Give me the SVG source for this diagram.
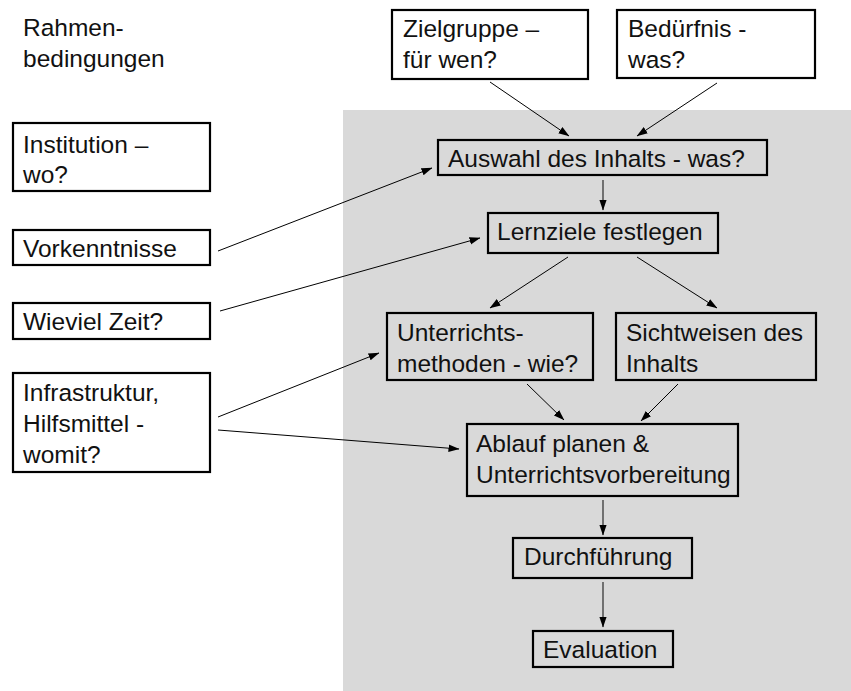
<svg xmlns="http://www.w3.org/2000/svg" width="851" height="691" viewBox="0 0 851 691">
<defs>
<marker id="ah" markerUnits="userSpaceOnUse" markerWidth="11" markerHeight="8" refX="10.5" refY="3.75" orient="auto">
<path d="M0,0 L11,3.75 L0,7.5 Z" fill="#000"/>
</marker>
<style>
.t{font-family:"Liberation Sans",Arial,sans-serif;font-size:24.5px;fill:#111}
.b{fill:#fff;stroke:#000;stroke-width:2.2}
.g{fill:none;stroke:#000;stroke-width:2.2}
.c{fill:none;stroke:#000;stroke-width:1;marker-end:url(#ah)}
.v{fill:none;stroke:#444;stroke-width:1.4;marker-end:url(#ah)}
</style>
</defs>
<rect x="343" y="110" width="508" height="581" fill="#d9d9d9"/>
<g id="rahmen">
<text class="t" x="23" y="36">Rahmen-</text>
<text class="t" x="23" y="67">bedingungen</text>
</g>
<g id="zielgruppe">
<rect class="b" x="392" y="10" width="196" height="69"/>
<text class="t" x="403" y="37">Zielgruppe –</text>
<text class="t" x="403" y="68">für wen?</text>
</g>
<g id="beduerfnis">
<rect class="b" x="617" y="10" width="198" height="68"/>
<text class="t" x="628" y="37">Bedürfnis -</text>
<text class="t" x="628" y="68">was?</text>
</g>
<g id="institution">
<rect class="b" x="13" y="123" width="197" height="68"/>
<text class="t" x="23" y="153">Institution –</text>
<text class="t" x="23" y="183">wo?</text>
</g>
<g id="vorkenntnisse">
<rect class="b" x="13" y="230" width="197" height="35"/>
<text class="t" x="23" y="257">Vorkenntnisse</text>
</g>
<g id="zeit">
<rect class="b" x="13" y="303" width="197" height="36"/>
<text class="t" x="23" y="330">Wieviel Zeit?</text>
</g>
<g id="infrastruktur">
<rect class="b" x="13" y="373" width="197" height="99"/>
<text class="t" x="23" y="401">Infrastruktur,</text>
<text class="t" x="23" y="432">Hilfsmittel -</text>
<text class="t" x="23" y="463">womit?</text>
</g>
<g id="auswahl">
<rect class="g" x="438" y="140" width="329" height="35"/>
<text class="t" x="448" y="167">Auswahl des Inhalts - was?</text>
</g>
<g id="lernziele">
<rect class="g" x="488" y="213" width="230" height="40"/>
<text class="t" x="497" y="240">Lernziele festlegen</text>
</g>
<g id="methoden">
<rect class="g" x="387" y="313" width="206" height="67"/>
<text class="t" x="397" y="341">Unterrichts-</text>
<text class="t" x="397" y="372">methoden - wie?</text>
</g>
<g id="sichtweisen">
<rect class="g" x="616" y="313" width="200" height="67"/>
<text class="t" x="626" y="341">Sichtweisen des</text>
<text class="t" x="626" y="372">Inhalts</text>
</g>
<g id="ablauf">
<rect class="g" x="467" y="424" width="271" height="72"/>
<text class="t" x="476" y="452">Ablauf planen &amp;</text>
<text class="t" x="476" y="483">Unterrichtsvorbereitung</text>
</g>
<g id="durchfuehrung">
<rect class="g" x="513" y="538" width="179" height="40"/>
<text class="t" x="524" y="565">Durchführung</text>
</g>
<g id="evaluation">
<rect class="g" x="533" y="631" width="140" height="36"/>
<text class="t" x="543" y="658">Evaluation</text>
</g>
<g id="connectors">
<line class="c" x1="490" y1="82" x2="569" y2="136"/>
<line class="c" x1="717" y1="83" x2="637" y2="136"/>
<line class="c" x1="218" y1="251" x2="432" y2="168"/>
<line class="c" x1="220" y1="311" x2="480" y2="238"/>
<line class="c" x1="218" y1="417" x2="379" y2="353"/>
<line class="c" x1="218" y1="430" x2="459" y2="449"/>
<line class="v" x1="603" y1="180" x2="603" y2="210"/>
<line class="c" x1="568" y1="257" x2="490" y2="308"/>
<line class="c" x1="637" y1="257" x2="717" y2="308"/>
<line class="c" x1="527" y1="384" x2="564" y2="420"/>
<line class="c" x1="678" y1="384" x2="641" y2="421"/>
<line class="v" x1="603" y1="500" x2="603" y2="535"/>
<line class="v" x1="603" y1="582" x2="603" y2="627"/>
</g>
</svg>
